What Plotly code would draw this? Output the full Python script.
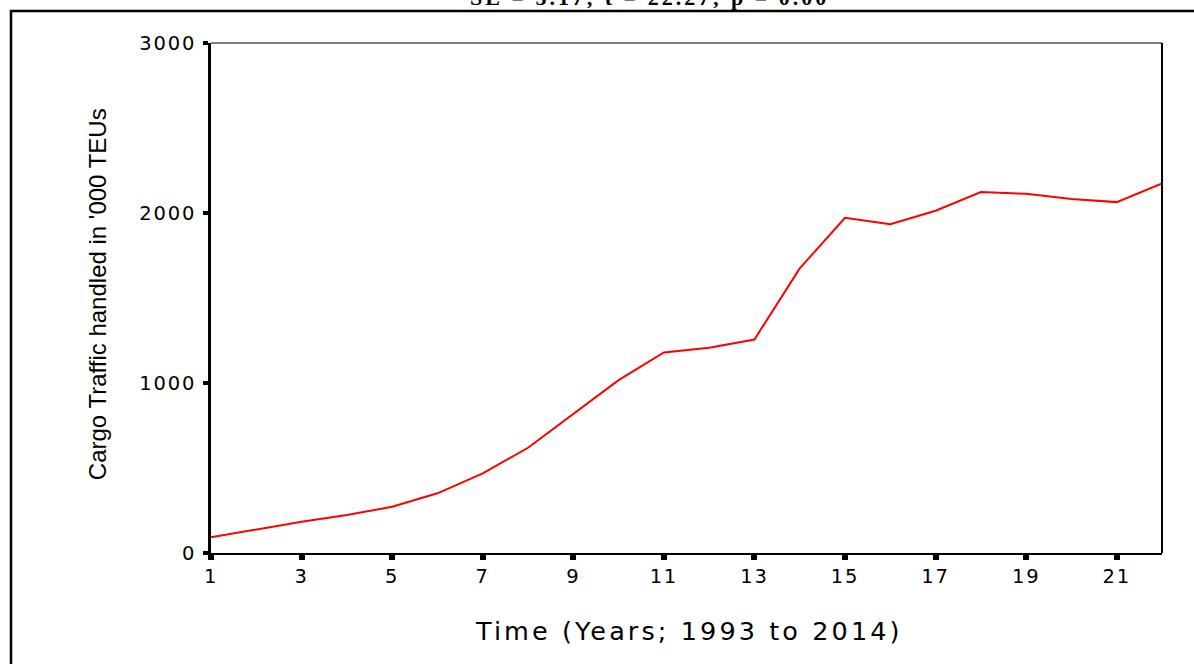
import plotly.graph_objects as go

# ---- data ----
years_index = list(range(1, 23))
cargo_teu_000 = [92, 139, 184, 223, 272, 351, 468, 619, 820, 1017, 1180,
                 1207, 1256, 1674, 1972, 1934, 2013, 2123, 2113, 2082, 2064, 2174]
x_tick_vals = [1, 3, 5, 7, 9, 11, 13, 15, 17, 19, 21]
x_tick_text = ["1", "3", "5", "7", "9", "11", "13", "15", "17", "19", "21"]
y_tick_vals = [0, 1000, 2000, 3000]
y_tick_text = ["0", "1000", "2000", "3000"]
x_title = "Time (Years; 1993 to 2014)"
y_title = "Cargo Traffic handled in '000 TEUs"
top_text = "SE = 5.17; t = 22.27; p = 0.00"

W, H = 1194, 664
L, R, T, B = 211, 32, 43, 111
PW, PH = W - L - R, H - T - B


def px_x(px):
    return (px - L) / PW


def px_y(py):
    return (H - B - py) / PH


def spaced(t, ls):
    return f'<span style="letter-spacing:{ls}px">{t}</span>'


fig = go.Figure()
fig.add_trace(go.Scatter(
    x=years_index, y=cargo_teu_000, mode="lines",
    line=dict(color="#ff0000", width=2), showlegend=False,
    hoverinfo="skip"))

tickfont = dict(family="DejaVu Sans", size=19.5, color="black")

fig.update_layout(
    width=W, height=H, autosize=False,
    margin=dict(l=L, r=R, t=T, b=B, pad=0),
    paper_bgcolor="white", plot_bgcolor="white",
    xaxis=dict(
        range=[1, 22], tickmode="array", tickvals=x_tick_vals,
        ticktext=[spaced(t, 1.8) for t in x_tick_text],
        ticks="outside", ticklen=5, tickwidth=6, tickcolor="black",
        showline=True, linecolor="black", linewidth=2, mirror=False,
        showgrid=False, zeroline=False, tickfont=tickfont,
    ),
    yaxis=dict(
        range=[0, 3000], tickmode="array", tickvals=y_tick_vals,
        ticktext=[spaced(t, 1.8) for t in y_tick_text],
        ticks="outside", ticklen=5, tickwidth=4, tickcolor="black",
        showline=True, linecolor="black", linewidth=3, mirror=False,
        showgrid=False, zeroline=False, tickfont=tickfont,
        ticklabelstandoff=3,
    ),
    shapes=[
        dict(type="line", xref="paper", yref="paper", x0=0, x1=1, y0=1, y1=1,
             line=dict(color="black", width=1)),
        dict(type="line", xref="paper", yref="paper", x0=1, x1=1, y0=0, y1=1,
             line=dict(color="black", width=2)),
        dict(type="rect", xref="paper", yref="paper",
             x0=px_x(11), x1=px_x(1300), y0=px_y(760), y1=px_y(11),
             line=dict(color="black", width=2.5), fillcolor="rgba(0,0,0,0)"),
    ],
    annotations=[
        dict(text=spaced(x_title, 3.1), xref="paper", yref="paper",
             x=px_x(688.5), y=px_y(631.3), xanchor="center", yanchor="middle",
             showarrow=False, borderpad=0,
             font=dict(family="DejaVu Sans", size=25.5, color="black")),
        dict(text=y_title, xref="paper", yref="paper", textangle=-90,
             x=px_x(97.2), y=px_y(294), xanchor="center", yanchor="middle",
             showarrow=False, borderpad=0,
             font=dict(family="Liberation Sans", size=24, color="black")),
        dict(text="<b>" + spaced(top_text, 3) + "</b>", xref="paper", yref="paper",
             x=px_x(649), y=px_y(11.25), xanchor="center", yanchor="bottom",
             showarrow=False, borderpad=0,
             font=dict(family="Liberation Serif", size=22, color="black")),
    ],
)

fig.write_html("out.html",
               config={"displayModeBar": False},
               post_script="document.body.style.margin='0';document.body.style.overflow='hidden';")
